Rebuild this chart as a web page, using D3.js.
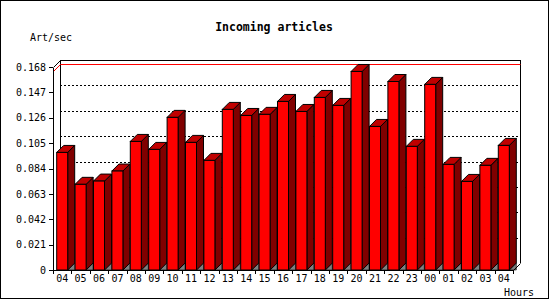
<!DOCTYPE html>
<html>
<head>
<meta charset="utf-8">
<script src="https://cdn.jsdelivr.net/npm/d3@7"></script>
<style>
  body { margin: 0; background: #fff; }
  text { font-family: "DejaVu Sans Mono", "Liberation Mono", monospace; }
</style>
</head>
<body>
<div id="chart"></div>
<script>
// hourly article rate
const hours = ["04","05","06","07","08","09","10","11","12","13","14","15","16","17","18","19","20","21","22","23","00","01","02","03","04"];
const artPerSec = [0.0973,0.0709,0.0736,0.0819,0.1064,0.0998,0.1263,0.1056,0.0907,0.1329,0.1279,0.1288,0.1395,0.1312,0.1428,0.1362,0.1643,0.1188,0.1560,0.1023,0.1536,0.0874,0.0733,0.0866,0.1031];
const yTicks = [0, 0.021, 0.042, 0.063, 0.084, 0.105, 0.126, 0.147, 0.168];

const width = 550, height = 300;
const plotL = 53, plotR = 513, plotB = 270, plotT = 67;
const depth = 7; // 3d offset

const svg = d3.select("#chart").append("svg")
  .attr("width", width)
  .attr("height", height);

svg.append("rect")
  .attr("x", 0.5).attr("y", 0.5)
  .attr("width", 548).attr("height", 298)
  .attr("fill", "#fff").attr("stroke", "#000");

const x = d3.scaleBand()
  .domain(d3.range(hours.length))
  .range([plotL, plotR])
  .paddingInner(0.402)
  .paddingOuter(0.201);

const xEdges = d3.scaleLinear().domain([0, hours.length]).range([plotL, plotR]);

const y = d3.scaleLinear().domain([0, 0.168]).range([plotB, plotT]);

// back wall (shifted by depth)
const back = svg.append("g").attr("transform", `translate(${depth},${-depth})`);

back.selectAll("line.grid")
  .data(yTicks.slice(1, -1))
  .join("line")
  .attr("class", "grid")
  .attr("x1", plotL).attr("x2", plotR)
  .attr("y1", d => Math.round(y(d)) + 0.5).attr("y2", d => Math.round(y(d)) + 0.5)
  .attr("stroke", "#000")
  .attr("stroke-dasharray", "2,2");

back.append("path")
  .attr("d", `M${plotL + 0.5},${plotB}V${plotT + 0.5}H${plotR + 0.5}V${plotB}`)
  .attr("fill", "none")
  .attr("stroke", "#000")
  .attr("shape-rendering", "crispEdges");

// connector from front axis top to back wall
svg.append("line")
  .attr("x1", plotL + 0.5).attr("y1", plotT + 0.5)
  .attr("x2", plotL + depth + 0.5).attr("y2", plotT - depth + 0.5)
  .attr("stroke", "#000");

// max line
const maxVal = d3.max(artPerSec);
const ym = Math.round(y(maxVal)) + 0.5;
svg.append("path")
  .attr("d", `M${plotL + 0.5},${ym}L${plotL + depth + 0.5},${ym - depth}H${plotR + depth + 0.5}`)
  .attr("fill", "none")
  .attr("stroke", "#ff0000");

// bars
const bw = x.bandwidth();
const bars = svg.append("g").selectAll("g")
  .data(artPerSec)
  .join("g");

bars.append("polygon")
  .attr("points", (d, i) => {
    const x1 = x(i) + bw;
    return [[x1, plotB], [x1 + depth, plotB - depth], [x1 + depth, plotB]].join(" ");
  })
  .attr("fill", "#808080")
  .attr("stroke", "#000")
  .attr("stroke-width", 0.6);

bars.append("polygon")
  .attr("points", (d, i) => {
    const x1 = x(i) + bw, yt = y(d);
    return [[x1, yt], [x1 + depth, yt - depth], [x1 + depth, plotB - depth], [x1, plotB]].join(" ");
  })
  .attr("fill", "#800000")
  .attr("stroke", "#000");

bars.append("polygon")
  .attr("points", (d, i) => {
    const x0 = x(i), yt = y(d);
    return [[x0, yt], [x0 + depth, yt - depth], [x0 + bw + depth, yt - depth], [x0 + bw, yt]].join(" ");
  })
  .attr("fill", "#c00000")
  .attr("stroke", "#000");

bars.append("rect")
  .attr("x", (d, i) => x(i))
  .attr("y", d => y(d))
  .attr("width", bw)
  .attr("height", d => plotB - y(d))
  .attr("fill", "#ff0000")
  .attr("stroke", "#000");

// right back-floor edge
svg.append("line")
  .attr("x1", plotR + 0.5).attr("y1", plotB + 0.5)
  .attr("x2", plotR + depth + 0.5).attr("y2", plotB - depth + 0.5)
  .attr("stroke", "#000");

// y axis
const yAxis = svg.append("g")
  .attr("transform", `translate(${plotL},0)`)
  .call(d3.axisLeft(y)
    .tickValues(yTicks)
    .tickSize(4)
    .tickSizeOuter(0)
    .tickPadding(3)
    .tickFormat(d => d === 0 ? "0" : d3.format(".3f")(d)));
yAxis.attr("font-family", null);
yAxis.selectAll("text").attr("font-size", 10).attr("fill", "#000");

// x axis: ticks at band edges, labels centred
svg.append("g")
  .attr("transform", `translate(0,${plotB})`)
  .call(d3.axisBottom(xEdges)
    .tickValues(d3.range(hours.length + 1))
    .tickSize(4)
    .tickSizeOuter(0)
    .tickFormat(""));

const xLab = svg.append("g")
  .attr("transform", `translate(0,${plotB})`)
  .call(d3.axisBottom(x)
    .tickSize(0)
    .tickPadding(5)
    .tickFormat(i => hours[i]));
xLab.select(".domain").remove();
xLab.attr("font-family", null);
xLab.selectAll("text").attr("font-size", 10).attr("fill", "#000");

svg.selectAll(".domain, .tick line").attr("shape-rendering", "crispEdges");

svg.append("text")
  .attr("x", 274).attr("y", 30.5)
  .attr("text-anchor", "middle")
  .attr("font-size", 11.5)
  .attr("font-weight", "bold")
  .text("Incoming articles");

svg.append("text")
  .attr("x", 30).attr("y", 41)
  .attr("font-size", 10)
  .text("Art/sec");

svg.append("text")
  .attr("x", 504).attr("y", 296)
  .attr("font-size", 10)
  .text("Hours");
</script>
</body>
</html>
